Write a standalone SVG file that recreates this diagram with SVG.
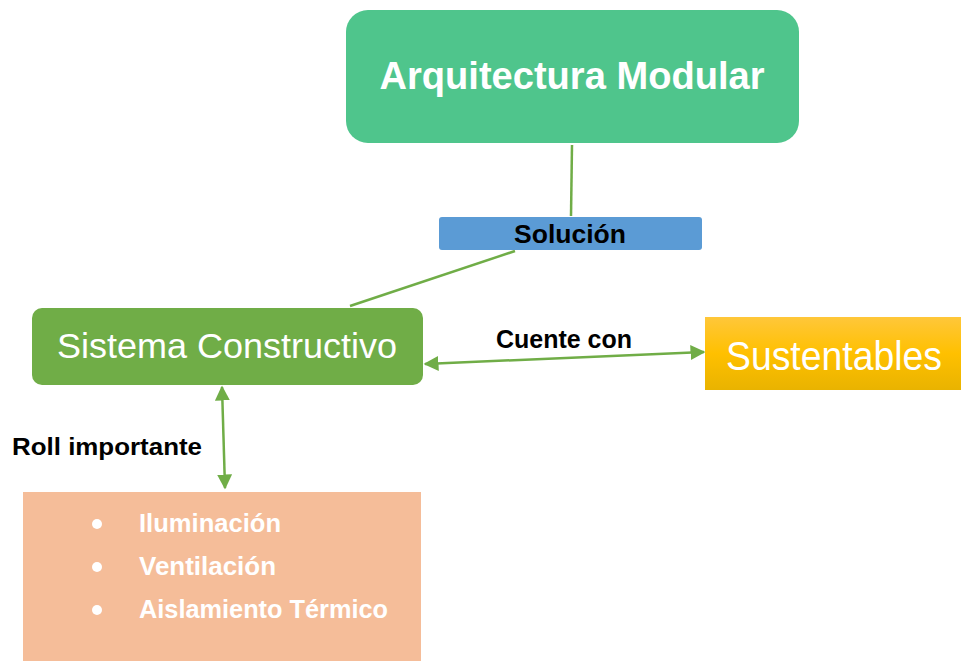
<svg xmlns="http://www.w3.org/2000/svg" width="961" height="661" viewBox="0 0 961 661">
<defs>
<linearGradient id="gy" x1="0" y1="0" x2="0" y2="1">
<stop offset="0" stop-color="#FFC73A"/>
<stop offset="0.5" stop-color="#FFC000"/>
<stop offset="1" stop-color="#E9B300"/>
</linearGradient>
<marker id="ah" viewBox="0 0 10 10" refX="9" refY="5" markerWidth="6" markerHeight="6" orient="auto-start-reverse" markerUnits="strokeWidth">
<path d="M0,0 L10,5 L0,10 z" fill="#70AD47"/>
</marker>
</defs>
<style>
.w{fill:#FFFFFF;font-family:"Liberation Sans",Arial,sans-serif}
.b{fill:#000000;font-family:"Liberation Sans",Arial,sans-serif;font-weight:bold}
.ln{stroke:#70AD47;stroke-width:2.5;fill:none}
</style>
<rect width="961" height="661" fill="#FFFFFF"/>
<g id="connectors">
<line class="ln" x1="572" y1="145" x2="571" y2="216"/>
<line class="ln" x1="515" y1="251" x2="350" y2="306"/>
<line class="ln" x1="425" y1="364" x2="704" y2="352" marker-start="url(#ah)" marker-end="url(#ah)"/>
<line class="ln" x1="222" y1="387" x2="225" y2="488" marker-start="url(#ah)" marker-end="url(#ah)"/>
<text class="b" x="564" y="348" font-size="25" text-anchor="middle" textLength="136" lengthAdjust="spacingAndGlyphs">Cuente con</text>
<text class="b" x="107" y="455" font-size="24" text-anchor="middle" textLength="190" lengthAdjust="spacingAndGlyphs">Roll importante</text>
</g>
<g id="arquitectura">
<rect x="346" y="10" width="453" height="133" rx="22" fill="#4FC58C"/>
<text class="w" x="572" y="89" font-size="38" font-weight="bold" text-anchor="middle" textLength="385" lengthAdjust="spacingAndGlyphs">Arquitectura Modular</text>
</g>
<g id="solucion">
<rect x="439" y="217" width="263" height="33" rx="3" fill="#5B9BD5"/>
<text class="b" x="570" y="243" font-size="25" text-anchor="middle" textLength="112" lengthAdjust="spacingAndGlyphs">Solución</text>
</g>
<g id="sistema">
<rect x="32" y="308" width="391" height="77" rx="10" fill="#70AD47"/>
<text class="w" x="227" y="358" font-size="35" text-anchor="middle" textLength="340" lengthAdjust="spacingAndGlyphs">Sistema Constructivo</text>
</g>
<g id="sustentables">
<rect x="705" y="317" width="256" height="73" fill="url(#gy)"/>
<text class="w" x="834" y="370" font-size="41" text-anchor="middle" textLength="216" lengthAdjust="spacingAndGlyphs">Sustentables</text>
</g>
<g id="lista">
<rect x="23" y="492" width="398" height="169" fill="#F5BD99"/>
<circle cx="97" cy="524" r="5" fill="#FFFFFF"/>
<circle cx="97" cy="567" r="5" fill="#FFFFFF"/>
<circle cx="97" cy="610" r="5" fill="#FFFFFF"/>
<text class="w" x="139" y="532" font-size="26" font-weight="bold" textLength="142" lengthAdjust="spacingAndGlyphs">Iluminación</text>
<text class="w" x="139" y="575" font-size="26" font-weight="bold" textLength="137" lengthAdjust="spacingAndGlyphs">Ventilación</text>
<text class="w" x="139" y="618" font-size="26" font-weight="bold" textLength="249" lengthAdjust="spacingAndGlyphs">Aislamiento Térmico</text>
</g>
</svg>
